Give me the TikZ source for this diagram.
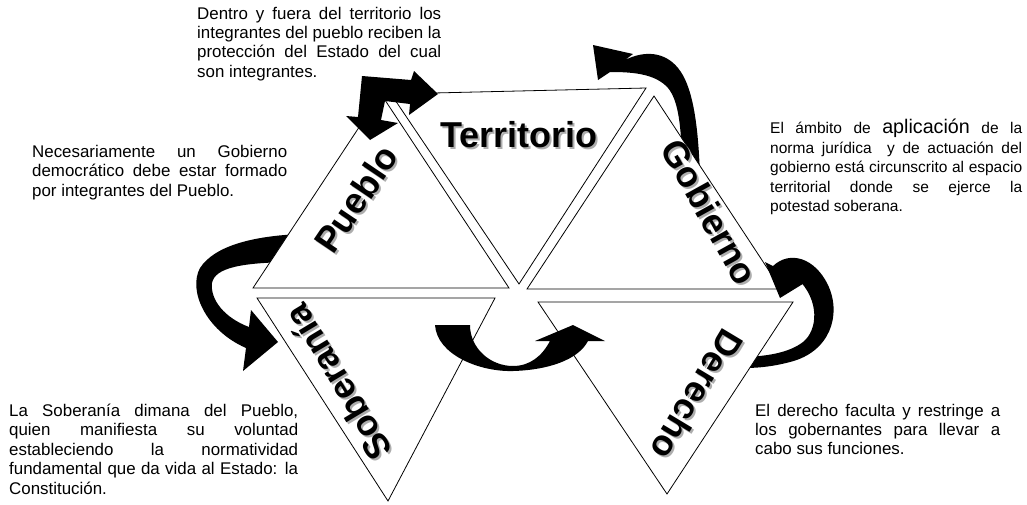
\documentclass[tikz,border=0pt]{standalone}
\usepackage{fontspec}
\setmainfont{Liberation Sans}
\begin{document}
\begin{tikzpicture}[x=1pt,y=-1pt,
  tri/.style={draw=black,line width=0.8pt,fill=white,line join=miter},
  blk/.style={fill=black,draw=none},
  lbl/.style={font=\fontsize{36}{38}\selectfont\bfseries,inner sep=0pt},
  shd/.style={lbl,text=black!32},
  para/.style={inner sep=0pt,anchor=base west,align=left}
]
\useasboundingbox (0,0) rectangle (1027,504);
\fill[white] (0,0) rectangle (1027,504);

% arrows behind the triangles
\fill[blk] (593,45) -- (633,54) -- (625,60) .. controls (645,50) and (665,52) .. (678,68)
  .. controls (692,85) and (698,120) .. (700,175) -- (682,175)
  .. controls (682,125) and (678,100) .. (668,88)
  .. controls (655,73) and (630,72) .. (610,72) -- (598,80) -- cycle;
\fill[blk] (300,234) .. controls (255,236) and (215,245) .. (200,268)
  .. controls (188,290) and (205,330) .. (246,348) -- (243,371) -- (278,342) -- (251,310) -- (249,327)
  .. controls (225,318) and (210,300) .. (212,283)
  .. controls (215,268) and (240,262) .. (300,262) -- cycle;

% triangles
\draw[tri] (253,288) -- (509,288) -- (381,94) -- cycle;
\draw[tri] (391,94) -- (646,88) -- (519,284) -- cycle;
\draw[tri] (527,289) -- (781,289) -- (654,96) -- cycle;
\draw[tri] (257,298) -- (495,298) -- (388,501) -- cycle;

% right arrow (under Derecho)
\fill[blk] (780,298) -- (765,262) -- (773,266) .. controls (790,250) and (815,258) .. (828,285)
  .. controls (842,315) and (830,352) .. (790,362)
  .. controls (775,366) and (760,368) .. (745,368) -- (745,357)
  .. controls (770,356) and (790,352) .. (803,342)
  .. controls (818,330) and (820,300) .. (797,278) -- (806,282) -- cycle;

\draw[tri] (538,302) -- (793,302) -- (667,494) -- cycle;

% arrows on top
\fill[blk] (362,76) -- (411,80) -- (414,71) -- (438,94) -- (409,115) -- (410,104) -- (385,101)
  -- (381,120) -- (398,123) -- (370,140) -- (346,116) -- (358,117) -- cycle;
\fill[blk] (435,325) .. controls (437,355) and (480,372) .. (513,371)
  .. controls (548,370) and (578,360) .. (588,341) -- (605,341) -- (573,325) -- (535,341) -- (550,341)
  .. controls (542,356) and (530,366) .. (513,366)
  .. controls (490,366) and (470,348) .. (470,325) -- cycle;

% labels
\node[shd] (terrS) at (521,137) {Territorio};
\node[lbl] (terr) at (519,135) {Territorio};
\node[shd,rotate=56] (pueS) at (358,201) {Pueblo};
\node[lbl,rotate=56] (pue) at (356,199) {Pueblo};
\node[shd,rotate=-61] (gobS) at (712,214) {Gobierno};
\node[lbl,rotate=-61] (gob) at (710,212) {Gobierno};
\node[shd,rotate=121] (sobS) at (340,385) {Soberanía};
\node[lbl,rotate=121] (sob) at (338,383) {Soberanía};
\node[shd,rotate=-121] (derS) at (699,397) {Derecho};
\node[lbl,rotate=-121] (der) at (697,395) {Derecho};

% texts
\node[para] (txtTop) at (197,19) {\parbox[t]{244pt}{\fontsize{16.9}{19.4}\selectfont
\makebox[\linewidth][s]{Dentro y fuera del territorio los}\\
\makebox[\linewidth][s]{integrantes del pueblo reciben la}\\
\makebox[\linewidth][s]{protección del Estado del cual}\\
son integrantes.}};

\node[para] (txtLeft) at (32,157.3) {\parbox[t]{255pt}{\fontsize{16.9}{19.4}\selectfont
\makebox[\linewidth][s]{Necesariamente un Gobierno}\\
\makebox[\linewidth][s]{democrático debe estar formado}\\
por integrantes del Pueblo.}};

\node[para] (txtRight) at (770,133.5) {\parbox[t]{252pt}{\fontsize{15.5}{19.5}\selectfont
\makebox[\linewidth][s]{El ámbito de {\fontsize{19.7}{19.5}\selectfont aplicación} de la}\\
\makebox[\linewidth][s]{norma jurídica\ \ y de actuación del}\\
\makebox[\linewidth][s]{gobierno está circunscrito al espacio}\\
\makebox[\linewidth][s]{territorial donde se ejerce la}\\
potestad soberana.}};

\node[para] (txtSob) at (9,416.5) {\parbox[t]{289pt}{\fontsize{16.9}{19.4}\selectfont
\makebox[\linewidth][s]{La Soberanía dimana del Pueblo,}\\
\makebox[\linewidth][s]{quien manifiesta su voluntad}\\
\makebox[\linewidth][s]{estableciendo la normatividad}\\
\makebox[\linewidth][s]{fundamental que da vida al Estado: la}\\
Constitución.}};

\node[para] (txtDer) at (755,416) {\parbox[t]{245pt}{\fontsize{16.9}{19.4}\selectfont
\makebox[\linewidth][s]{El derecho faculta y restringe a}\\
\makebox[\linewidth][s]{los gobernantes para llevar a}\\
cabo sus funciones.}};
\end{tikzpicture}
\end{document}
